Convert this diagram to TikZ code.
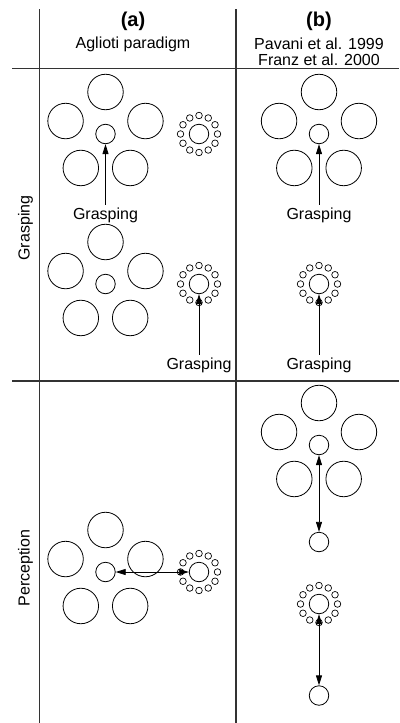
\documentclass[tikz,border=0pt]{standalone}
\usepackage{fontspec}
\setmainfont{Liberation Sans}
\usetikzlibrary{arrows.meta,calc}
\tikzset{
  bigc/.style={circle,draw,minimum size=35.5pt,inner sep=0pt,line width=0.8pt},
  smallc/.style={circle,draw,minimum size=19.5pt,inner sep=0pt,line width=0.8pt},
  dotc/.style={circle,draw,minimum size=6.6pt,inner sep=0pt,line width=0.7pt},
  lbl/.style={font=\fontsize{16}{18}\selectfont,inner sep=3pt,anchor=base},
  hdr/.style={font=\bfseries\fontsize{20}{22}\selectfont,inner sep=0pt,anchor=base},
  divider/.style={line width=1.2pt,black!80},
  arr/.style={-{Triangle[length=10pt,width=6pt]},line width=0.8pt},
  darr/.style={{Triangle[length=10pt,width=6pt]}-{Triangle[length=10pt,width=6pt]},line width=0.8pt}
}
\newcommand\flowergroup[3]{%
  \node[smallc] (#1c) at (#2,#3) {};
  \foreach \k/\ang in {1/90,2/162,3/234,4/306,5/18}
    \node[bigc] (#1p\k) at ({#2+42*cos(\ang)},{#3-42*sin(\ang)}) {};
}
\newcommand\ringgroup[3]{%
  \node[smallc] (#1c) at (#2,#3) {};
  \foreach \ang in {0,30,...,330}
    \node[dotc] (#1d\ang) at ({#2+18.5*cos(\ang)},{#3-18.5*sin(\ang)}) {};
}
\begin{document}
\begin{tikzpicture}[x=1pt,y=-1pt]
\useasboundingbox (0,0) rectangle (399,723);
% grid
\draw[divider] (39.5,9) -- (39.5,723);
\draw[divider] (236,9) -- (236,723);
\draw[divider] (12,68.5) -- (399,68.5);
\draw[divider] (12,381) -- (399,381);
% headers
\node[hdr] (ha) at (133,26.5) {(a)};
\node[hdr] (hb) at (319,26.5) {(b)};
\node[lbl,inner sep=0pt] (ta) at (133,48.5) {Aglioti paradigm};
\node[lbl,inner sep=0pt] (tb1) at (319,49) {Pavani et al. 1999};
\node[lbl,inner sep=0pt] (tb2) at (319,65) {Franz et al. 2000};
% row labels
\node[lbl,inner sep=0pt,rotate=90] (rg) at (29.5,228) {Grasping};
\node[lbl,inner sep=0pt,rotate=90] (rp) at (29.5,568) {Perception};
% panel (a), grasping
\flowergroup{aa}{105.5}{134}
\ringgroup{ab}{199}{134}
\node[lbl] (la1) at (105.5,219.5) {Grasping};
\draw[arr] (la1.north) -- (aac.south);
\flowergroup{ac}{105.5}{284}
\ringgroup{ad}{199}{284}
\node[lbl] (la2) at (199,369.5) {Grasping};
\draw[arr] (la2.north) -- (adc.south);
% panel (b), grasping
\flowergroup{ba}{319}{134}
\node[lbl] (lb1) at (319,219.5) {Grasping};
\draw[arr] (lb1.north) -- (bac.south);
\ringgroup{bb}{319}{284}
\node[lbl] (lb2) at (319,369.5) {Grasping};
\draw[arr] (lb2.north) -- (bbc.south);
% panel (a), perception
\flowergroup{ae}{105.5}{572}
\ringgroup{af}{199}{572}
\draw[darr] (aec.east) -- (afc.west);
% panel (b), perception
\flowergroup{bc}{319}{445}
\node[smallc] (bi1) at (319,542) {};
\draw[darr] (bcc.south) -- (bi1.north);
\ringgroup{bd}{319}{604}
\node[smallc] (bi2) at (319,695.5) {};
\draw[darr] (bdc.south) -- (bi2.north);
\end{tikzpicture}
\end{document}
